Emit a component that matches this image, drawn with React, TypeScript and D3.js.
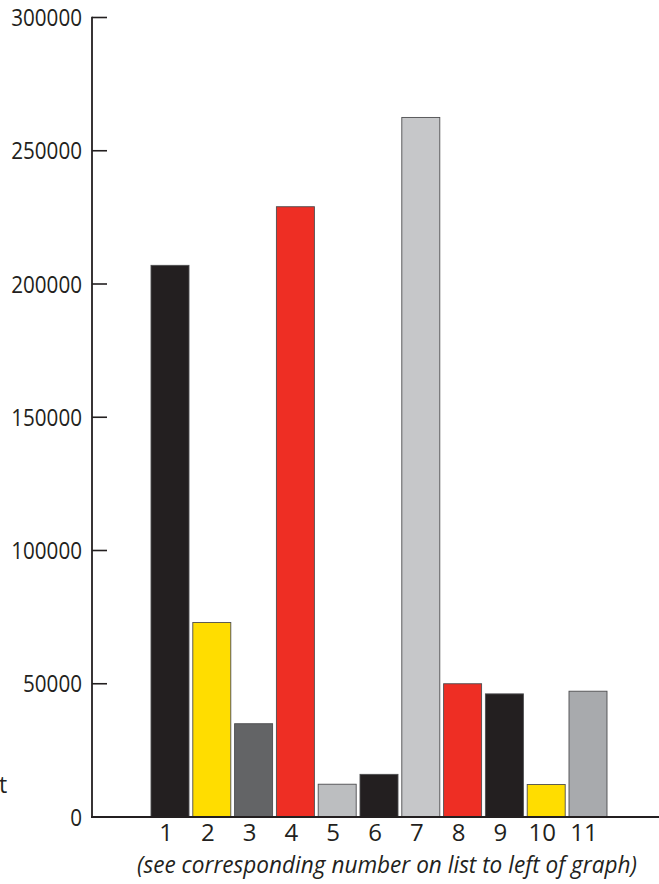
import React from "react";
import * as d3 from "d3";

const categories = ["1", "2", "3", "4", "5", "6", "7", "8", "9", "10", "11"];
const values = [207000, 73000, 35000, 229000, 12300, 16000, 262500, 50000, 46200, 12200, 47200];
const barColors = ["#231f20", "#ffdd00", "#636466", "#ee2e24", "#bcbec0", "#231f20", "#c6c7c9", "#ee2e24", "#231f20", "#ffdd00", "#a8aaad"];
const yTicks = [0, 50000, 100000, 150000, 200000, 250000, 300000];
const caption = "(see corresponding number on list to left of graph)";
const leftFragment = "t";

const W = 659;
const H = 884;
const axisX = 92;
const font = "'Open Sans', 'DejaVu Sans', sans-serif";

export default function App() {
  const y = d3.scaleLinear().domain([0, 300000]).range([817, 17.5]);
  const x = d3.scaleBand<string>().domain(categories).range([151, 607]).paddingInner(0.091).paddingOuter(0);
  const bw = x.bandwidth();
  return (
    <svg width={W} height={H} style={{ position: "absolute", left: 0, top: 0, background: "#fff" }}>
      {categories.map((c, i) => (
        <rect
          key={c}
          x={x(c)!}
          y={y(values[i])}
          width={bw}
          height={y(0) - y(values[i])}
          fill={barColors[i]}
          stroke="#4d4d4f"
          strokeWidth={0.9}
        />
      ))}
      {/* y axis */}
      <line x1={axisX} x2={axisX} y1={y(300000) - 0.8} y2={y(0) + 1} stroke="#231f20" strokeWidth={1.8} />
      {yTicks.map((t) => (
        <g key={t}>
          <line x1={axisX} x2={axisX + 15} y1={y(t)} y2={y(t)} stroke="#231f20" strokeWidth={1.6} />
          <text
            x={82}
            y={y(t)}
            dy="0.36em"
            textAnchor="end"
            fontFamily={font}
            fontSize={24}
            fill="#231f20"
            textLength={String(t).length * 11.8}
            lengthAdjust="spacingAndGlyphs"
          >
            {t}
          </text>
        </g>
      ))}
      {/* x axis */}
      <line x1={axisX - 0.9} x2={W} y1={y(0)} y2={y(0)} stroke="#231f20" strokeWidth={2} />
      {categories.map((c) => (
        <text key={c} x={x(c)! + bw / 2 - 4} y={841} textAnchor="middle" fontFamily={font} fontSize={24} fill="#231f20">
          {c}
        </text>
      ))}
      <text x={137} y={873} fontFamily={font} fontStyle="italic" fontSize={23.5} fill="#231f20" textLength={500} lengthAdjust="spacingAndGlyphs">
        {caption}
      </text>
      <text x={-1} y={793} fontFamily={font} fontSize={23} fill="#231f20">
        {leftFragment}
      </text>
    </svg>
  );
}
